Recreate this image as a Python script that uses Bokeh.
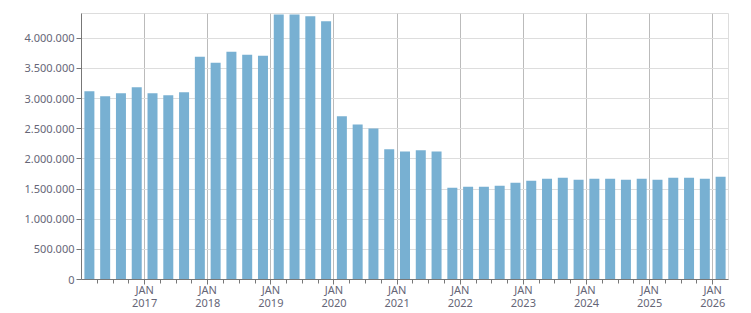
from bokeh.plotting import figure
from bokeh.models import Range1d, FixedTicker, ColumnDataSource
from bokeh.embed import file_html
from bokeh.resources import INLINE

years = [2016, 2017, 2018, 2019, 2020, 2021, 2022, 2023, 2024, 2025, 2026]
quarters = [(y, q) for y in years for q in (1, 2, 3, 4)][:41]
values = [3121000, 3038000, 3088000, 3187000,
          3088000, 3055000, 3104000, 3692000,
          3593000, 3775000, 3725000, 3709000,
          4395000, 4395000, 4364000, 4281000,
          2708000, 2571000, 2505000, 2158000,
          2124000, 2141000, 2124000, 1521000,
          1538000, 1538000, 1555000, 1604000,
          1637000, 1670000, 1687000, 1654000,
          1670000, 1670000, 1654000, 1670000,
          1654000, 1687000, 1687000, 1670000,
          1703000]
y_ticks = [0, 500000, 1000000, 1500000, 2000000, 2500000, 3000000, 3500000, 4000000]
y_tick_labels = ["0", "500.000", "1.000.000", "1.500.000", "2.000.000",
                 "2.500.000", "3.000.000", "3.500.000", "4.000.000"]
x_tick_years = [2017, 2018, 2019, 2020, 2021, 2022, 2023, 2024, 2025, 2026]
x_tick_month = "JAN"

# x in months since Jan 2016, bar at middle of quarter
xs = [(y - 2016) * 12 + (q - 1) * 3 + 1.5 for (y, q) in quarters]
src = ColumnDataSource(dict(x=xs, v=values))

p = figure(width=751, height=313, output_backend="svg", toolbar_location=None,
           x_range=Range1d(0, 123), y_range=Range1d(0, 4410000),
           min_border_left=81, min_border_right=23, min_border_top=13,
           min_border_bottom=33)
p.background_fill_color = "white"
p.border_fill_color = "white"
p.outline_line_color = "#dddddd"

p.vbar(x='x', top='v', width=1.9, source=src, fill_color="#78b0d2", line_color=None)

major_x = [(y - 2016) * 12 for y in x_tick_years]
minor_x = [m for m in range(3, 123, 3) if m % 12 != 0]
p.xaxis.ticker = FixedTicker(ticks=major_x, minor_ticks=minor_x)
p.xaxis.major_label_overrides = {m: f"{x_tick_month}\n{y}" for m, y in zip(major_x, x_tick_years)}
p.yaxis.ticker = FixedTicker(ticks=y_ticks)
p.yaxis.major_label_overrides = {t: l for t, l in zip(y_ticks, y_tick_labels)}

p.xgrid.grid_line_color = "#bbbbbb"
p.ygrid.grid_line_color = "#dddddd"

LABEL_COLOR = "#666677"
for ax in (p.xaxis[0], p.yaxis[0]):
    ax.axis_line_color = "#777777"
    ax.major_tick_line_color = "#777777"
    ax.minor_tick_line_color = "#777777"
    ax.major_tick_out = 5
    ax.major_tick_in = 0
    ax.major_label_text_font = "Noto Sans"
    ax.major_label_text_font_size = "11px"
    ax.major_label_text_color = LABEL_COLOR
p.xaxis.minor_tick_out = 4
p.xaxis.minor_tick_in = 0
p.yaxis.minor_tick_line_color = None
p.xaxis.major_label_text_line_height = 0.9
p.xaxis.major_label_standoff = -3
p.yaxis.major_label_standoff = 2

open("out.html", "w").write(file_html(p, INLINE))
